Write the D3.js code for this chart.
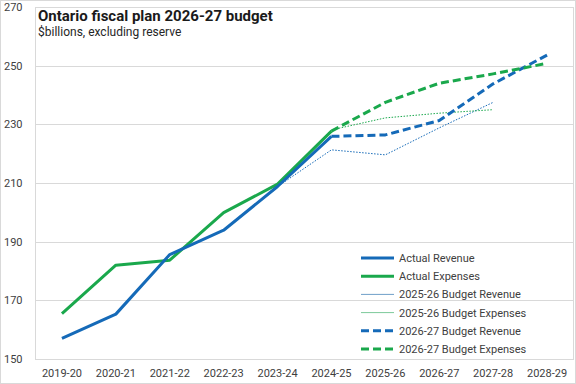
<!DOCTYPE html>
<html>
<head>
<meta charset="utf-8">
<script src="https://cdn.jsdelivr.net/npm/d3@7"></script>
<style>
  body { margin: 0; background: #fff; }
  text { font-family: Roboto, "Noto Sans", sans-serif; fill: #404040; }
</style>
</head>
<body>
<div id="chart"></div>
<script>

// fiscal years on the x axis
var years = ["2019-20", "2020-21", "2021-22", "2022-23", "2023-24",
  "2024-25", "2025-26", "2026-27", "2027-28", "2028-29"];

// $billions, null where a series has no value
var actualRevenue = [157.0, 165.3, 185.6, 193.9, 208.8, 225.9, null, null, null, null];
var actualExpenses = [165.5, 182.0, 183.7, 199.9, 209.6, 227.7, null, null, null, null];
var budget2526Revenue = [null, null, null, null, 208.8, 221.3, 219.6, 228.8, 237.5, null];
var budget2526Expenses = [null, null, null, null, 209.6, 228.1, 232.2, 233.8, 235.0, null];
var budget2627Revenue = [null, null, null, null, null, 225.9, 226.4, 231.3, 243.8, 253.6];
var budget2627Expenses = [null, null, null, null, null, 227.7, 237.5, 244.0, 247.2, 250.8];

var yTicks = [150, 170, 190, 210, 230, 250, 270];

var blue = "#156ab8";
var green = "#1aa84c";

var series = [
  { name: "Actual Revenue", values: actualRevenue, color: blue, width: 3, dash: null, legendColor: blue },
  { name: "Actual Expenses", values: actualExpenses, color: green, width: 3, dash: null, legendColor: green },
  { name: "2025-26 Budget Revenue", values: budget2526Revenue, color: blue, width: 1, dash: "1.5,1.5", legendColor: "#6f9fc9" },
  { name: "2025-26 Budget Expenses", values: budget2526Expenses, color: green, width: 1, dash: "1.5,1.5", legendColor: "#7cc99a" },
  { name: "2026-27 Budget Revenue", values: budget2627Revenue, color: blue, width: 3, dash: "8,4", legendColor: blue },
  { name: "2026-27 Budget Expenses", values: budget2627Expenses, color: green, width: 3, dash: "8,4", legendColor: green }
];

var svgWidth = 576;
var svgHeight = 384;

var margin = { top: 7, right: 2, bottom: 25, left: 35 };
var chartWidth = svgWidth - margin.left - margin.right;
var chartHeight = svgHeight - margin.top - margin.bottom;

var svg = d3.select("#chart")
  .append("svg")
  .attr("width", svgWidth)
  .attr("height", svgHeight);

// outer chart border
svg.append("rect")
  .attr("x", 0.5).attr("y", 0.5)
  .attr("width", svgWidth - 1).attr("height", svgHeight - 1)
  .attr("fill", "none")
  .attr("stroke", "#d9d9d9");

var chartGroup = svg.append("g")
  .attr("transform", `translate(${margin.left}, ${margin.top})`);

var xScale = d3.scaleBand()
  .domain(years)
  .range([0, chartWidth]);

var yScale = d3.scaleLinear()
  .domain([150, 270])
  .range([chartHeight, 0]);

// gridlines
chartGroup.selectAll(".grid")
  .data(yTicks)
  .enter()
  .append("line")
  .attr("x1", 0)
  .attr("x2", chartWidth)
  .attr("y1", d => Math.round(yScale(d)) + 0.5)
  .attr("y2", d => Math.round(yScale(d)) + 0.5)
  .attr("stroke", "#d9d9d9");

// plot area border
chartGroup.append("rect")
  .attr("x", 0.5).attr("y", 0.5)
  .attr("width", chartWidth - 1).attr("height", chartHeight)
  .attr("fill", "none")
  .attr("stroke", "#d9d9d9");

// y axis labels (left aligned at the chart edge)
var leftAxis = d3.axisLeft(yScale).tickValues(yTicks).tickSize(0).tickPadding(0);
var yAxis = svg.append("g")
  .attr("transform", `translate(4, ${margin.top})`)
  .call(leftAxis);
yAxis.select(".domain").remove();
yAxis.selectAll("text")
  .attr("text-anchor", "start")
  .attr("x", 0)
  .style("font-size", "11px")
  .style("font-family", "Roboto, sans-serif")
  .attr("fill", "#404040");

// x axis labels
var bottomAxis = d3.axisBottom(xScale).tickSize(0).tickPadding(10);
var xAxis = chartGroup.append("g")
  .attr("transform", `translate(0, ${chartHeight})`)
  .call(bottomAxis);
xAxis.select(".domain").remove();
xAxis.selectAll("text")
  .style("font-size", "11px")
  .style("font-family", "Roboto, sans-serif")
  .attr("fill", "#404040");

var line = d3.line()
  .defined(d => d.v !== null)
  .x(d => xScale(d.year) + xScale.bandwidth() / 2)
  .y(d => yScale(d.v));

// thin lines first, then the heavy ones on top
var drawOrder = [2, 3, 1, 0, 4, 5];
drawOrder.forEach(function (i) {
  var s = series[i];
  var pts = s.values.map((v, j) => ({ year: years[j], v: v }));
  chartGroup.append("path")
    .datum(pts)
    .attr("d", line)
    .attr("fill", "none")
    .attr("stroke", s.color)
    .attr("stroke-width", s.width)
    .attr("stroke-dasharray", s.dash)
    .attr("stroke-linejoin", "round");
});

// legend
var legend = svg.append("g")
  .attr("transform", "translate(361, 258)");

series.forEach(function (s, i) {
  var row = legend.append("g")
    .attr("transform", `translate(0, ${i * 18.2})`);
  row.append("line")
    .attr("x1", 0).attr("x2", 33)
    .attr("y1", 0).attr("y2", 0)
    .attr("stroke", s.legendColor)
    .attr("stroke-width", s.width)
    .attr("stroke-dasharray", s.dash ? (s.width > 2 ? "8,4" : null) : null);
  row.append("text")
    .attr("x", 38)
    .attr("y", 4)
    .style("font-size", "11px")
    .text(s.name);
});

// title
svg.append("text")
  .attr("x", 38)
  .attr("y", 21)
  .style("font-size", "15px")
  .style("font-weight", "bold")
  .attr("fill", "#1a1a1a")
  .style("fill", "#1a1a1a")
  .text("Ontario fiscal plan 2026-27 budget");

svg.append("text")
  .attr("x", 38)
  .attr("y", 36)
  .style("font-size", "12px")
  .style("fill", "#262626")
  .text("$billions, excluding reserve");

</script>
</body>
</html>
